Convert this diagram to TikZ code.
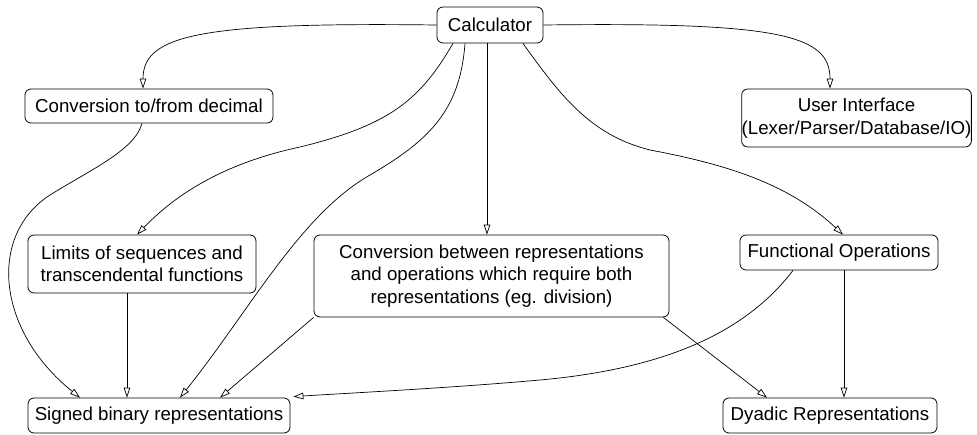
\documentclass[tikz,border=0pt]{standalone}
\usepackage{fontspec}
\setmainfont{Liberation Sans}
\usetikzlibrary{arrows.meta}
\begin{document}
\begin{tikzpicture}[x=1pt,y=-1pt,
  box/.style={draw, rounded corners=6pt, inner sep=0pt, align=center,
    font=\fontsize{18.7}{22.5}\selectfont, line width=0.8pt},
  edge/.style={-{Triangle[open,length=10pt,width=6.5pt]}, line width=0.7pt}]
\useasboundingbox (0,0) rectangle (977,434);
\node[box, minimum width=106pt, minimum height=36pt] (calc) at (490,25) {Calculator};
\node[box, minimum width=248pt, minimum height=34pt] (convdec) at (149,106) {Conversion to/from decimal};
\node[box, minimum width=221pt, minimum height=58pt] (ui) at (856.5,118) {User Interface\\(Lexer/Parser/Database/IO)};
\node[box, minimum width=228pt, minimum height=58pt] (lim) at (142,264) {Limits of sequences and\\transcendental functions};
\node[box, minimum width=355pt, minimum height=82pt] (convb) at (491.5,276) {Conversion between representations\\and operations which require both\\representations (eg. division)};
\node[box, minimum width=198pt, minimum height=35pt] (func) at (839,252.5) {Functional Operations};
\node[box, minimum width=262pt, minimum height=35pt] (signed) at (159,415.5) {Signed binary representations};
\node[box, minimum width=214pt, minimum height=35pt] (dyadic) at (830,415.5) {Dyadic Representations};

% Calculator edges
\draw[edge] (calc.west) .. controls (200,22) and (143,35) .. ([xshift=-6pt]convdec.north);
\draw[edge] (calc.east) .. controls (780,22) and (830,35) .. ([xshift=-26.5pt]ui.north);
\draw[edge] ([xshift=-37pt]calc.south) .. controls (420,100) and (390,125) .. (300,147)
  .. controls (230,162) and (180,190) .. ([xshift=-5pt]lim.north);
\draw[edge] ([xshift=-25pt]calc.south) .. controls (460,110) and (430,140) .. (370,175)
  .. controls (300,215) and (250,310) .. ([xshift=21pt]signed.north);
\draw[edge] ([xshift=-3pt]calc.south) -- ([xshift=-4.5pt]convb.north);
\draw[edge] ([xshift=33pt]calc.south) .. controls (560,95) and (590,135) .. (650,150)
  .. controls (730,165) and (790,185) .. ([xshift=4pt]func.north);

% Other edges
\draw[edge] ([xshift=-7pt]convdec.south) .. controls (135,150) and (90,170) .. (50,195)
  .. controls (-12,235) and (-4,330) .. ([xshift=-79pt]signed.north);
\draw[edge] ([xshift=-15pt]lim.south) -- ([xshift=-32pt]signed.north);
\draw[edge] (convb.south west) -- ([xshift=61pt]signed.north);
\draw[edge] ([xshift=-6pt]convb.south east) -- ([xshift=-63pt]dyadic.north);
\draw[edge] ([xshift=5pt]func.south) -- ([xshift=14pt]dyadic.north);
\draw[edge] ([xshift=-46pt]func.south) .. controls (740,340) and (650,370) .. (540,380)
  .. controls (450,388) and (350,393) .. ([xshift=3pt,yshift=1pt]signed.north east);
\end{tikzpicture}
\end{document}
